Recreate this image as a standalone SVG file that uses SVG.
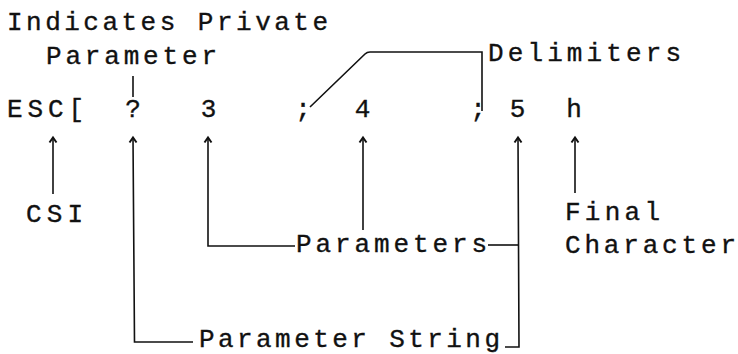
<svg xmlns="http://www.w3.org/2000/svg" width="738" height="354" viewBox="0 0 738 354">
<style>
text{font-family:"Liberation Mono","DejaVu Sans Mono",monospace;font-size:26px;fill:#111;stroke:#111;stroke-width:0.35}
.c{stroke:#111;stroke-width:1.6;fill:none}
</style>
<defs>
<marker id="ah" viewBox="-6 -5 10 10" markerWidth="10" markerHeight="10" markerUnits="userSpaceOnUse" orient="auto" refX="0" refY="0">
<path d="M-5,-3.5 L0,0 L-5,3.5" fill="none" stroke="#111" stroke-width="2"/>
</marker>
</defs>
<rect width="738" height="354" fill="#fff"/>
<g id="label-private">
<text x="7" y="29.5" textLength="321" lengthAdjust="spacing">Indicates Private</text>
<text x="46" y="63.5" textLength="171" lengthAdjust="spacing">Parameter</text>
</g>
<g id="label-delimiters"><text x="488" y="61" textLength="193" lengthAdjust="spacing">Delimiters</text></g>
<g id="sequence">
<text x="7" y="117" textLength="77" lengthAdjust="spacing">ESC[</text>
<text x="133" y="117" text-anchor="middle">?</text>
<text x="208.5" y="117" text-anchor="middle">3</text>
<text x="303" y="117" text-anchor="middle">;</text>
<text x="362.5" y="117" text-anchor="middle">4</text>
<text x="478" y="117" text-anchor="middle">;</text>
<text x="517.5" y="117" text-anchor="middle">5</text>
<text x="574" y="117" text-anchor="middle">h</text>
</g>
<g id="label-csi"><text x="26" y="222" textLength="57" lengthAdjust="spacing">CSI</text></g>
<g id="label-parameters"><text x="296" y="252" textLength="191" lengthAdjust="spacing">Parameters</text></g>
<g id="label-final">
<text x="565" y="220" textLength="95" lengthAdjust="spacing">Final</text>
<text x="565" y="253" textLength="171" lengthAdjust="spacing">Character</text>
</g>
<g id="label-string"><text x="199" y="347" textLength="301" lengthAdjust="spacing">Parameter String</text></g>
<g id="connectors">
<path class="c" d="M133,76 L133,97"/>
<path class="c" d="M310,107 L365,54 Q367,52 370,52 L482,52 L482,111"/>
<path class="c" d="M53,194 L53,137.5" marker-end="url(#ah)"/>
<path class="c" d="M193,342 L134.5,342 L133,137.5" marker-end="url(#ah)"/>
<path class="c" d="M295,246 L208,246 L208,137.5" marker-end="url(#ah)"/>
<path class="c" d="M363,230 L363,137.5" marker-end="url(#ah)"/>
<path class="c" d="M488,245 L518.5,245"/>
<path class="c" d="M505,347 L519,347 L518,137.5" marker-end="url(#ah)"/>
<path class="c" d="M575,193 L575,137.5" marker-end="url(#ah)"/>
</g>
</svg>
